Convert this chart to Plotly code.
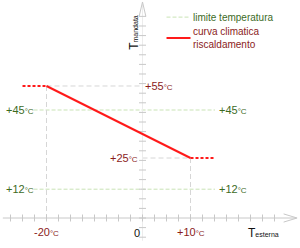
import numpy as np
import plotly.graph_objects as go

# ---- data ----
curve_x = [-20, 10]          # solid heating curve
curve_y = [55, 25]
left_ext_x = [-25, -20]      # dashed extension (min outdoor temp)
left_ext_y = [55, 55]
right_ext_x = [10, 15]       # dashed extension (max outdoor temp)
right_ext_y = [25, 25]
limit_temps = [45, 12]       # limite temperatura
limit_x = [-22.7, 15.1]
x_labels = [-20, 0, 10]
y_labels = [55, 25]

RED_TXT = "#8b1c1c"
GREEN_TXT = "#3d6b1f"
GREEN_LINE = "#c9e3b5"
GRAY = "#d6d6d6"
AX = "#c8c8c8"
FONT = "Liberation Sans, Arial, sans-serif"

fig = go.Figure()

# limit lines
for t in limit_temps:
    fig.add_trace(go.Scatter(x=limit_x, y=[t, t], mode="lines",
                             line=dict(color=GREEN_LINE, width=1, dash="4px,2px"),
                             hoverinfo="skip"))

# gray helper lines
fig.add_trace(go.Scatter(x=[curve_x[0], 0], y=[curve_y[0]] * 2, mode="lines",
                         line=dict(color=GRAY, width=1, dash="5px,3px"), hoverinfo="skip"))
fig.add_trace(go.Scatter(x=[0, curve_x[1]], y=[curve_y[1]] * 2, mode="lines",
                         line=dict(color=GRAY, width=1, dash="5px,3px"), hoverinfo="skip"))
fig.add_trace(go.Scatter(x=[curve_x[0]] * 2, y=[curve_y[0], 0], mode="lines",
                         line=dict(color=GRAY, width=1, dash="5px,3px"), hoverinfo="skip"))
fig.add_trace(go.Scatter(x=[curve_x[1]] * 2, y=[curve_y[1], 0], mode="lines",
                         line=dict(color=GRAY, width=1, dash="5px,3px"), hoverinfo="skip"))

# axes
fig.add_trace(go.Scatter(x=[-29.1, 32], y=[0, 0], mode="lines",
                         line=dict(color=AX, width=1), hoverinfo="skip"))
fig.add_trace(go.Scatter(x=[0, 0], y=[-9.5, 89], mode="lines",
                         line=dict(color="#ececec", width=1), hoverinfo="skip"))
xt = np.arange(-27.5, 30, 2.5)
fig.add_trace(go.Scatter(x=xt, y=np.zeros_like(xt), mode="markers",
                         marker=dict(symbol="line-ns", size=5, line=dict(color=AX, width=1)),
                         hoverinfo="skip"))
yt = np.arange(-8, 86, 4)
fig.add_trace(go.Scatter(x=np.zeros_like(yt), y=yt, mode="markers",
                         marker=dict(symbol="line-ew", size=5, line=dict(color=AX, width=1)),
                         hoverinfo="skip"))
# arrow heads
fig.add_shape(type="path", path="M -0.7,84 L 0,90 L 0.7,84", xref="x", yref="y",
              line=dict(color=AX, width=1))
fig.add_shape(type="path", path="M 29.4,1.7 L 32.2,0 L 29.4,-1.7", xref="x", yref="y",
              line=dict(color=AX, width=1))

# heating curve
fig.add_trace(go.Scatter(x=left_ext_x, y=left_ext_y, mode="lines",
                         line=dict(color="#ff1a1a", width=2, dash="3px,2px"), hoverinfo="skip"))
fig.add_trace(go.Scatter(x=right_ext_x, y=right_ext_y, mode="lines",
                         line=dict(color="#ff1a1a", width=2, dash="3px,2px"), hoverinfo="skip"))
fig.add_trace(go.Scatter(x=curve_x, y=curve_y, mode="lines",
                         line=dict(color="#ff1a1a", width=2), hoverinfo="skip"))


def deg(v, sign=True):
    s = ("+" if v > 0 else "") + str(v)
    return s + "<span style='font-size:8px'>°C</span>"


ann = []
# limit labels
for t in limit_temps:
    ann.append(dict(x=-28.8, y=t, text=deg(t), xanchor="left", font=dict(color=GREEN_TXT, size=11)))
    ann.append(dict(x=15.5, y=t, text=deg(t), xanchor="left", font=dict(color=GREEN_TXT, size=11)))
ann.append(dict(x=0.2, y=y_labels[0], text=deg(y_labels[0]), xanchor="left",
                font=dict(color=RED_TXT, size=11)))
ann.append(dict(x=-0.5, y=y_labels[1], text=deg(y_labels[1]), xanchor="right",
                font=dict(color=RED_TXT, size=11)))
for v in x_labels:
    if v == 0:
        ann.append(dict(x=-1.2, y=-3, text="0", yanchor="top",
                        font=dict(color="#111111", size=11)))
    else:
        ann.append(dict(x=v, y=-2.3, text=deg(v), yanchor="top",
                        font=dict(color=RED_TXT, size=11)))
ann.append(dict(x=21.6, y=-2.6, text="T<span style='font-size:7px'>esterna</span>",
                xanchor="left", yanchor="top", font=dict(color="#111111", size=12)))
ann.append(dict(x=-1.8, y=77.5, text="T<span style='font-size:7px'>mandata</span>",
                textangle=-90, font=dict(color="#111111", size=12)))

# legend
fig.add_shape(type="line", x0=5, x1=10, y0=83.7, y1=83.7, xref="x", yref="y",
              line=dict(color=GREEN_LINE, width=1, dash="4px,2px"))
fig.add_shape(type="line", x0=5, x1=10, y0=75, y1=75, xref="x", yref="y",
              line=dict(color="#ff1a1a", width=2))
ann.append(dict(x=10.2, y=83.7, text="limite temperatura", xanchor="left",
                font=dict(color=GREEN_TXT, size=10)))
ann.append(dict(x=10.2, y=75, text="curva climatica<br>riscaldamento", xanchor="left",
                align="left", font=dict(color=RED_TXT, size=10)))

for a in ann:
    a.update(xref="x", yref="y", showarrow=False)
    a["font"]["family"] = FONT

fig.update_layout(
    width=300, height=248, margin=dict(l=0, r=0, t=0, b=0),
    paper_bgcolor="white", plot_bgcolor="white", showlegend=False,
    xaxis=dict(range=[-29.69, 32.81], visible=False, fixedrange=True),
    yaxis=dict(range=[-12.5, 90.83], visible=False, fixedrange=True),
    annotations=ann,
)

fig.write_html("out.html")
